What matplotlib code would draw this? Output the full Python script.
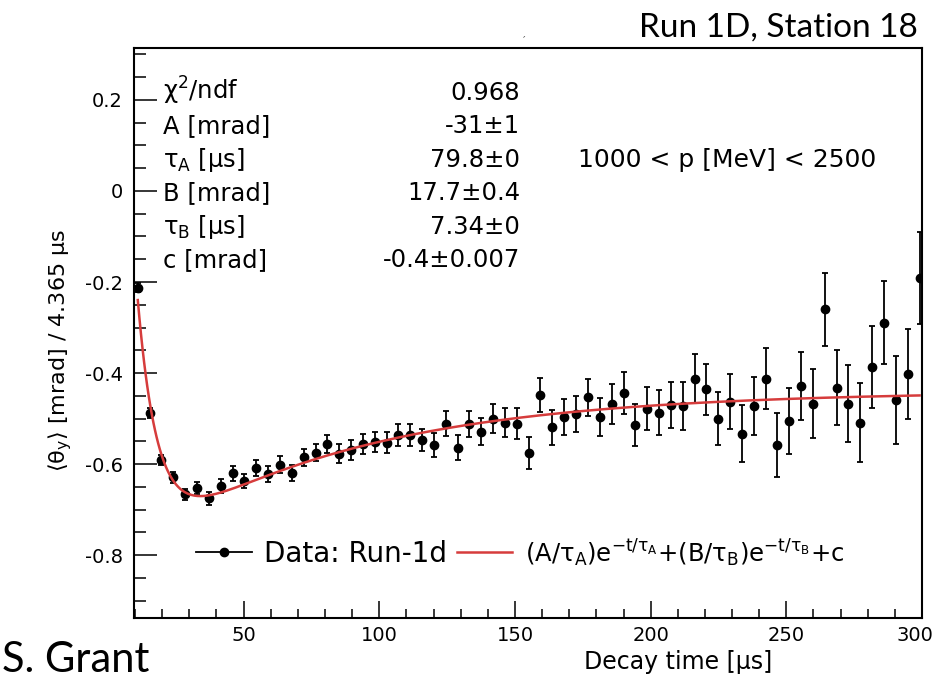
import numpy as np
import matplotlib
matplotlib.use('Agg')
import matplotlib.pyplot as plt
import matplotlib.transforms as mtransforms
from matplotlib.lines import Line2D
from matplotlib.ticker import MultipleLocator, FuncFormatter

plt.rcParams['font.family'] = 'DejaVu Sans'
plt.rcParams['mathtext.default'] = 'regular'
plt.rcParams['axes.unicode_minus'] = False

# bin centres [us] (bin width 4.365 us)
time_us = [11.0, 15.4, 19.7, 24.1, 28.5, 32.8, 37.2, 41.6, 45.9, 50.3,
           54.7, 59.0, 63.4, 67.8, 72.1, 76.5, 80.8, 85.2, 89.6, 93.9,
           98.3, 102.7, 107.0, 111.4, 115.8, 120.1, 124.5, 128.9, 133.2, 137.6,
           142.0, 146.3, 150.7, 155.1, 159.4, 163.8, 168.1, 172.5, 176.9, 181.2,
           185.6, 190.0, 194.3, 198.7, 203.1, 207.4, 211.8, 216.2, 220.5, 224.9,
           229.3, 233.6, 238.0, 242.4, 246.7, 251.1, 255.4, 259.8, 264.2, 268.5,
           272.9, 277.3, 281.6, 286.0, 290.4, 294.7, 299.1]
theta_y = [-0.213, -0.487, -0.590, -0.629, -0.666, -0.652, -0.675, -0.648, -0.620, -0.637,
           -0.609, -0.622, -0.601, -0.620, -0.585, -0.575, -0.556, -0.577, -0.569, -0.555,
           -0.551, -0.553, -0.536, -0.536, -0.547, -0.558, -0.511, -0.564, -0.512, -0.529,
           -0.500, -0.509, -0.511, -0.575, -0.448, -0.519, -0.496, -0.490, -0.453, -0.497,
           -0.467, -0.443, -0.514, -0.478, -0.487, -0.470, -0.472, -0.412, -0.436, -0.500,
           -0.463, -0.533, -0.472, -0.412, -0.558, -0.505, -0.428, -0.467, -0.260, -0.432,
           -0.467, -0.509, -0.386, -0.289, -0.459, -0.402, -0.192]
theta_err = [0.010, 0.011, 0.011, 0.012, 0.012, 0.013, 0.014, 0.015, 0.016, 0.016,
             0.017, 0.017, 0.018, 0.018, 0.019, 0.019, 0.020, 0.021, 0.021, 0.022,
             0.022, 0.023, 0.024, 0.024, 0.025, 0.026, 0.027, 0.028, 0.029, 0.030,
             0.031, 0.032, 0.034, 0.035, 0.037, 0.038, 0.039, 0.040, 0.041, 0.042,
             0.044, 0.046, 0.047, 0.048, 0.049, 0.050, 0.052, 0.054, 0.056, 0.058,
             0.060, 0.062, 0.064, 0.066, 0.070, 0.072, 0.074, 0.076, 0.080, 0.082,
             0.084, 0.087, 0.090, 0.092, 0.096, 0.099, 0.101]

# fit parameters (c is shown rounded in the box)
fit_A, fit_tauA, fit_B, fit_tauB, fit_c = -31.0, 79.8, 17.7, 7.34, -0.44

stats_names = [r'$\chi^2$/ndf', 'A [mrad]', r'$\tau_A$ [μs]', 'B [mrad]', r'$\tau_B$ [μs]', 'c [mrad]']
stats_values = ['0.968', '-31±1', '79.8±0', '17.7±0.4', '7.34±0', '-0.4±0.007']

W, H = 938, 684
fig = plt.figure(figsize=(W / 100, H / 100), dpi=100)


def fx(x):
    return x / W


def fy(y):
    return 1 - y / H


ax = fig.add_axes([fx(134), fy(618), (922 - 134) / W, (618 - 48) / H])

ax.errorbar(time_us, theta_y, yerr=theta_err, fmt='o', color='black', ms=6,
            elinewidth=1.3, capsize=2, capthick=1.3, zorder=3)
tt = np.linspace(time_us[0], time_us[-1], 500)
fit = fit_A / fit_tauA * np.exp(-tt / fit_tauA) + fit_B / fit_tauB * np.exp(-tt / fit_tauB) + fit_c
ax.plot(tt, fit, color='#d63c3c', lw=1.8, zorder=4)

ax.set_xlim(9.6, 300)
ax.set_ylim(-0.938, 0.314)

ax.xaxis.set_major_locator(MultipleLocator(50))
ax.xaxis.set_minor_locator(MultipleLocator(10))
ax.yaxis.set_major_locator(MultipleLocator(0.2))
ax.yaxis.set_minor_locator(MultipleLocator(0.05))
fmt = FuncFormatter(lambda v, _: '0' if abs(v) < 1e-9 else '%g' % round(v, 3))
ax.xaxis.set_major_formatter(fmt)
ax.yaxis.set_major_formatter(fmt)

ax.tick_params(axis='both', which='both', direction='in', top=False, right=False, color='black')
ax.tick_params(axis='y', which='major', length=16.5, width=1.1, labelsize=14, pad=8)
ax.tick_params(axis='y', which='minor', length=8.5, width=1.1)
ax.tick_params(axis='x', which='major', length=12, width=1.1, labelsize=14, pad=6)
ax.tick_params(axis='x', which='minor', length=6.5, width=1.1)
for sp in ax.spines.values():
    sp.set_linewidth(1.5)

ax.set_xlabel('Decay time [μs]', fontsize=17)
ax.xaxis.set_label_coords((678 - 134) / 788, (618 - 650) / 570)
ax.set_ylabel(r'$\langle\theta_y\rangle$ [mrad] / 4.365 μs', fontsize=16)
ax.yaxis.label.set_va('center')
ax.yaxis.set_label_coords((60 - 134) / 788, (618 - 350) / 570)

# legend
h_data = Line2D([], [], color='black', marker='o', ms=6, lw=1.3)
h_fit = Line2D([], [], color='#d63c3c', lw=1.8)
formula = r'(A/$\tau_A$)e$^{-t/\tau_A}$+(B/$\tau_B$)e$^{-t/\tau_B}$+c'
leg = ax.legend([h_data, h_fit], ['Data: Run-1d', formula], ncol=2, frameon=False, fontsize=20,
                loc='center left', bbox_to_anchor=((196 - 134) / 788, (618 - 553) / 570),
                borderpad=0, borderaxespad=0, handlelength=2.0, handletextpad=0.45, columnspacing=0.35)
leg.get_texts()[1].set_fontsize(17.5)

# fit statistics box
for k, (name, val) in enumerate(zip(stats_names, stats_values)):
    yb = 100 + 33.4 * k
    fig.text(fx(163), fy(yb), name, ha='left', va='baseline', fontsize=17.5)
    fig.text(fx(520), fy(yb), val, ha='right', va='baseline', fontsize=17.5)

fig.text(fx(578), fy(166.8), '1000 < p [MeV] < 2500', ha='left', va='baseline', fontsize=18)

# slide annotations
fig.text(fx(918), fy(37), 'Run 1D, Station 18', ha='right', va='baseline', family='Lato', fontsize=24)
fig.text(fx(2), fy(672), 'S. Grant', ha='left', va='baseline', family='Lato', fontsize=30)
fig.text(fx(524), fy(44), '′', ha='center', va='baseline', fontsize=8, color='#555555')

# keep the "300" label inside the picture
fig.canvas.draw()
for tick in ax.xaxis.get_major_ticks():
    if abs(tick.get_loc() - 300) < 1e-6:
        lab = tick.label1
        lab.set_transform(lab.get_transform() + mtransforms.ScaledTranslation(-5 / 72, 0, fig.dpi_scale_trans))

fig.savefig('out.png', dpi=100)
